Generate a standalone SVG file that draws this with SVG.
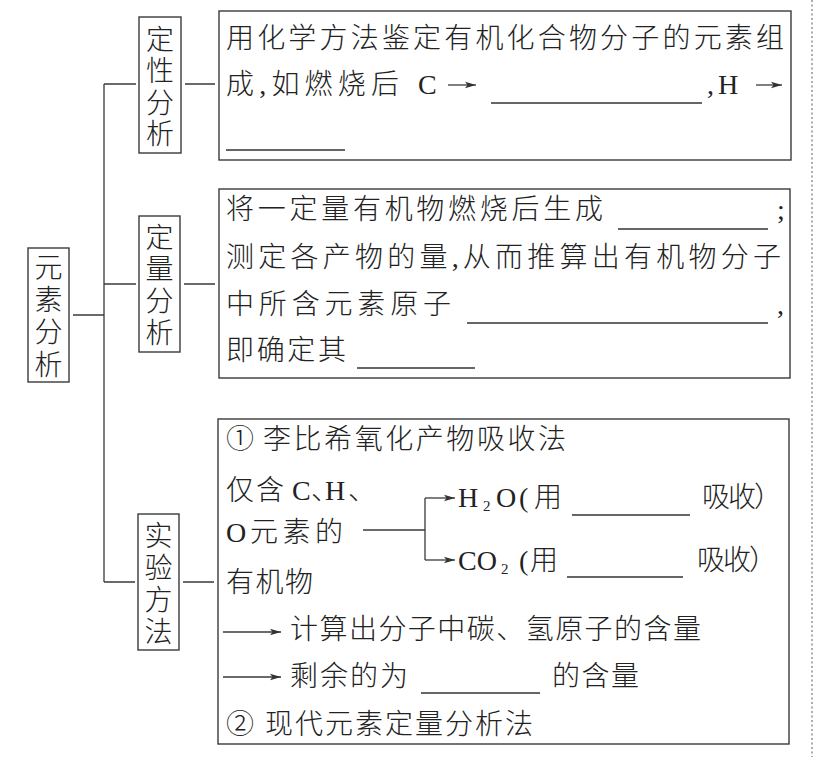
<svg xmlns="http://www.w3.org/2000/svg" width="816" height="757" viewBox="0 0 816 757">
<defs>
<style>
.bg{fill:#ffffff}
.box{fill:none;stroke:#3a3a3a;stroke-width:1.4}
.ln{fill:none;stroke:#3a3a3a;stroke-width:1.3}
.ul{fill:none;stroke:#333;stroke-width:1.3}
.t{font-family:"Liberation Serif","Noto Sans CJK SC",serif;font-size:28px;fill:#222;font-weight:300}
.v{font-family:"Noto Sans CJK SC",sans-serif;font-size:28px;fill:#222;font-weight:300;writing-mode:vertical-rl}
.sub{font-size:15px}
.dot{fill:none;stroke:#777;stroke-width:1.2;stroke-dasharray:2 2.5}
</style>
<marker id="ah" markerUnits="userSpaceOnUse" markerWidth="12" markerHeight="8" refX="11" refY="4" orient="auto">
<path d="M0,0.8 L11,4 L0,7.2 L2.5,4 Z" fill="#333"/>
</marker>
</defs>
<rect class="bg" x="0" y="0" width="816" height="757"/>
<line class="dot" x1="812" y1="0" x2="812" y2="757"/>

<g id="connectors">
<path class="ln" d="M73,315 H104 M104,84 V582 M104,84 H136 M104,284 H136 M104,582 H135"/>
<path class="ln" d="M185,84 H215 M184,284 H215 M183,582 H214"/>
</g>

<g id="root">
<rect class="box" x="28" y="248" width="41" height="134"/>
<text class="v" x="48.5" y="253" letter-spacing="4.3">元素分析</text>
</g>

<g id="qualitative">
<rect class="box" x="139" y="17" width="42" height="136"/>
<text class="v" x="160" y="25" letter-spacing="3.5">定性分析</text>
</g>

<g id="quantitative">
<rect class="box" x="139" y="216" width="41" height="136"/>
<text class="v" x="159.5" y="223" letter-spacing="3.7">定量分析</text>
</g>

<g id="experimental">
<rect class="box" x="138" y="514" width="41" height="136"/>
<text class="v" x="158.5" y="521" letter-spacing="4">实验方法</text>
</g>

<g id="box-qualitative">
<rect class="box" x="219" y="11" width="572" height="149"/>
<text class="t" x="226" y="47.5" textLength="558">用化学方法鉴定有机化合物分子的元素组</text>
<text class="t" x="226" y="94" textLength="173">成,如燃烧后</text>
<text class="t" x="418" y="94">C</text>
<line class="ln" x1="448" y1="85" x2="476" y2="85" marker-end="url(#ah)"/>
<line class="ul" x1="491" y1="103" x2="702" y2="103"/>
<text class="t" x="707" y="94">,<tspan x="718">H</tspan></text>
<line class="ln" x1="756" y1="85" x2="782" y2="85" marker-end="url(#ah)"/>
<line class="ul" x1="226" y1="150" x2="345" y2="150"/>
</g>

<g id="box-quantitative">
<rect class="box" x="219" y="189" width="571" height="189"/>
<text class="t" x="226" y="219" textLength="377">将一定量有机物燃烧后生成</text>
<line class="ul" x1="618" y1="229" x2="768" y2="229"/>
<text class="t" x="777" y="219">;</text>
<text class="t" x="226" y="267" textLength="555">测定各产物的量,从而推算出有机物分子</text>
<text class="t" x="226" y="314" textLength="225">中所含元素原子</text>
<line class="ul" x1="467" y1="323" x2="768" y2="323"/>
<text class="t" x="777" y="314">,</text>
<text class="t" x="226" y="360" textLength="120">即确定其</text>
<line class="ul" x1="357" y1="368" x2="475" y2="368"/>
</g>

<g id="box-experimental">
<rect class="box" x="218" y="419" width="571" height="325"/>
<text class="t" x="226" y="449">①<tspan x="263" textLength="303">李比希氧化产物吸收法</tspan></text>
<text class="t" x="226" y="500" letter-spacing="2">仅含<tspan x="292" letter-spacing="0">C</tspan><tspan x="311" letter-spacing="-14">、</tspan><tspan x="325" letter-spacing="0">H</tspan><tspan x="348">、</tspan></text>
<text class="t" x="226" y="542">O<tspan x="250" textLength="93">元素的</tspan></text>
<text class="t" x="226" y="592" textLength="87">有机物</text>

<path class="ln" d="M363,530 H425 M425,498 V560"/>
<line class="ln" x1="425" y1="498" x2="455" y2="498" marker-end="url(#ah)"/>
<line class="ln" x1="425" y1="560" x2="455" y2="560" marker-end="url(#ah)"/>

<text class="t" x="458" y="507">H<tspan class="sub" x="483" y="511">2</tspan><tspan x="496" y="507">O</tspan><tspan x="519">(</tspan><tspan x="534">用</tspan></text>
<line class="ul" x1="572" y1="515" x2="690" y2="515"/>
<text class="t" x="702" y="507" textLength="80">吸收）</text>

<text class="t" x="458" y="570">CO<tspan class="sub" x="501" y="574">2</tspan><tspan x="519" y="570">(</tspan><tspan x="530">用</tspan></text>
<line class="ul" x1="567" y1="577" x2="683" y2="577"/>
<text class="t" x="697" y="570" textLength="80">吸收）</text>

<line class="ln" x1="223" y1="632" x2="281" y2="632" marker-end="url(#ah)"/>
<text class="t" x="290" y="639" textLength="411">计算出分子中碳、氢原子的含量</text>
<line class="ln" x1="223" y1="677" x2="281" y2="677" marker-end="url(#ah)"/>
<text class="t" x="290" y="686" textLength="118">剩余的为</text>
<line class="ul" x1="421" y1="693" x2="540" y2="693"/>
<text class="t" x="552" y="686" textLength="87">的含量</text>
<text class="t" x="226" y="734">②<tspan x="265" textLength="268">现代元素定量分析法</tspan></text>
</g>
</svg>
